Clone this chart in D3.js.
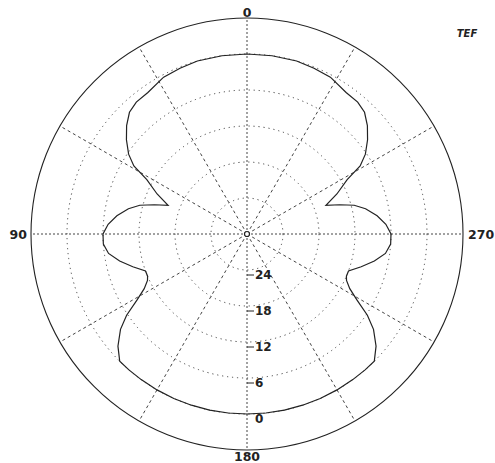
<!DOCTYPE html>
<html>
<head>
<meta charset="utf-8">
<script src="https://cdn.jsdelivr.net/npm/d3@7"></script>
<style>
  body { margin: 0; background: #fff; }
  svg { display: block; }
</style>
</head>
<body>
<script>
// polar pattern, angle in degrees (0 = top, counter-clockwise), level in dB
var angles = [0, 8, 16, 22, 28, 35, 40, 44, 48, 52, 56, 59, 61.5, 66, 70, 72.5, 75, 78, 82, 86,
  90, 94, 98, 102, 106, 110, 113, 115, 118, 121, 124, 127, 131, 135, 139, 144, 150, 156, 162, 168, 174,
  180, 186, 192, 198, 204, 210, 216, 221, 225, 229, 233, 236, 239, 242, 245, 247, 250, 254, 258, 262, 266,
  270, 274, 278, 282, 285, 287.5, 290, 294, 298.5, 301, 304, 308, 312, 316, 320, 325, 332, 338, 344, 352];
var gain = [0, 0.2, 0.2, -0.2, -0.4, -1.2, -1.3, -1.8, -3.0, -4.5, -6.2, -8.0, -11.0, -13.6, -16, -13.8, -11.5, -9.8, -8.1, -6.8,
  -6, -6.0, -6.7, -8.3, -10.2, -12, -12, -11.7, -10.6, -8.6, -5.8, -3.6, -1.5, 0.3, 1.8, 2.8, 3.2, 3.3, 3.0, 2.5, 2.1,
  2, 2.1, 2.5, 3.0, 3.3, 3.2, 2.8, 1.8, 0.3, -1.5, -3.6, -5.8, -8.6, -10.6, -11.7, -12, -12, -10.2, -8.3, -6.7, -6.0,
  -6, -6.8, -8.1, -9.8, -11.5, -13.8, -16, -13.6, -11.0, -8.0, -6.2, -4.5, -3.0, -1.8, -1.3, -1.2, -0.4, -0.2, 0.2, 0.2];

var rings = [0, -6, -12, -18, -24];
var ringLabels = ['0', '6', '12', '18', '24'];
var spokes = [0, 30, 60, 90, 120, 150, 180, 210, 240, 270, 300, 330];
var axisLabels = ['0', '90', '180', '270'];

var width = 495, height = 463;
var cx = 247, cy = 234, outerR = 216;

var svg = d3.select('body').append('svg')
  .attr('width', width)
  .attr('height', height);
svg.append('rect').attr('width', width).attr('height', height).attr('fill', '#fff');

var r = d3.scaleLinear().domain([-30, 0]).range([0, 180]).clamp(true);
function rad(a) { return -a * Math.PI / 180; }
function px(a, rr) { return cx - rr * Math.sin(a * Math.PI / 180); }
function py(a, rr) { return cy - rr * Math.cos(a * Math.PI / 180); }

var g = svg.append('g').attr('transform', 'translate(' + cx + ',' + cy + ')');

// spokes
g.selectAll('line.spoke')
  .data(spokes)
  .enter().append('line')
    .attr('class', 'spoke')
    .attr('x1', 0).attr('y1', 0)
    .attr('x2', function(d) { return px(d, outerR) - cx; })
    .attr('y2', function(d) { return py(d, outerR) - cy; })
    .attr('stroke', '#444')
    .attr('stroke-width', 1)
    .attr('stroke-dasharray', function(d) { return d % 90 == 0 ? '2,2' : '3,3'; });

// dotted rings
g.selectAll('circle.ring')
  .data(rings)
  .enter().append('circle')
    .attr('class', 'ring')
    .attr('r', function(d) { return r(d); })
    .attr('fill', 'none')
    .attr('stroke', '#444')
    .attr('stroke-width', 1)
    .attr('stroke-dasharray', '1.2,3.8');

// outer circle
g.append('circle')
  .attr('r', outerR)
  .attr('fill', 'none')
  .attr('stroke', '#222')
  .attr('stroke-width', 1.1);

// center
g.append('circle')
  .attr('r', 2.5)
  .attr('fill', '#fff')
  .attr('stroke', '#222')
  .attr('stroke-width', 1.2);

// pattern
var pts = angles.map(function(a, i) { return [a, gain[i]]; });
var line = d3.lineRadial()
  .angle(function(d) { return rad(d[0]); })
  .radius(function(d) { return r(d[1]); })
  .curve(d3.curveLinearClosed);
g.append('path')
  .attr('d', line(pts))
  .attr('fill', 'none')
  .attr('stroke', '#222')
  .attr('stroke-width', 1.2);

// ring ticks + labels on the 180 axis
var tick = g.selectAll('g.rl')
  .data(rings)
  .enter().append('g')
    .attr('class', 'rl')
    .attr('transform', function(d) { return 'translate(0,' + (r(d) + 5) + ')'; });
tick.filter(function(d) { return d != 0; })
  .append('line')
    .attr('x1', 0).attr('x2', 7)
    .attr('stroke', '#222').attr('stroke-width', 1);
tick.append('text')
  .attr('x', 8)
  .attr('dy', '0.36em')
  .attr('font-family', 'DejaVu Sans, sans-serif')
  .attr('font-weight', 'bold')
  .attr('font-size', 12)
  .attr('fill', '#222')
  .text(function(d, i) { return ringLabels[i]; });

// axis labels
var labelPos = [
  { x: cx, y: 17, anchor: 'middle' },
  { x: 27, y: cy + 4.5, anchor: 'end' },
  { x: cx, y: 461, anchor: 'middle' },
  { x: 468, y: cy + 4.5, anchor: 'start' }
];
svg.selectAll('text.ax')
  .data(axisLabels)
  .enter().append('text')
    .attr('class', 'ax')
    .attr('x', function(d, i) { return labelPos[i].x; })
    .attr('y', function(d, i) { return labelPos[i].y; })
    .attr('text-anchor', function(d, i) { return labelPos[i].anchor; })
    .attr('font-family', 'DejaVu Sans, sans-serif')
    .attr('font-weight', 'bold')
    .attr('font-size', 12.5)
    .attr('fill', '#222')
    .text(function(d) { return d; });

// logo
svg.append('text')
  .attr('x', 467)
  .attr('y', 37)
  .attr('text-anchor', 'middle')
  .attr('font-family', 'DejaVu Sans, sans-serif')
  .attr('font-weight', 'bold')
  .attr('font-style', 'italic')
  .attr('font-size', 10)
  .attr('fill', '#222')
  .text('TEF');
</script>
</body>
</html>
